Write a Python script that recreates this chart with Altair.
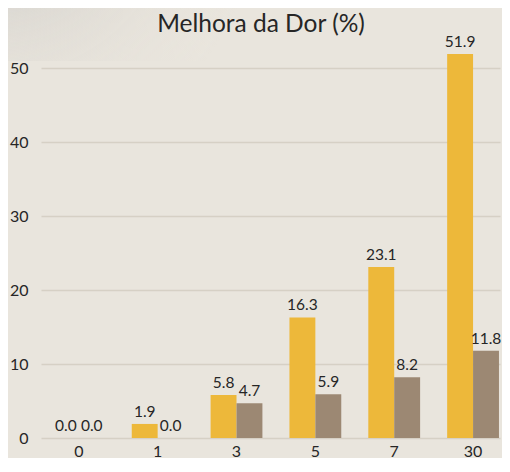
import altair as alt
import pandas as pd

title_text = "Melhora da Dor (%)"
days = ["0", "1", "3", "5", "7", "30"]
series_a = [0.0, 1.9, 5.8, 16.3, 23.1, 51.9]
series_b = [0.0, 0.0, 4.7, 5.9, 8.2, 11.8]
series_names = ["Grupo A", "Grupo B"]
colors = ["#EDB83A", "#9C8873"]

rows = []
for d, a, b in zip(days, series_a, series_b):
    rows.append({"dia": d, "grupo": series_names[0], "valor": a})
    rows.append({"dia": d, "grupo": series_names[1], "valor": b})
df = pd.DataFrame(rows)

FONT = "Lato"
TXT = "#262626"
x = alt.X("dia:N", sort=days, title=None,
          scale=alt.Scale(paddingInner=0.343, paddingOuter=0.082, align=0.92),
          axis=alt.Axis(labelAngle=0, domain=False, ticks=False, labelPadding=5,
                        labelFontSize=16, labelColor=TXT, labelFont=FONT))
y = alt.Y("valor:Q", title=None,
          scale=alt.Scale(domain=[0, 55], nice=False),
          axis=alt.Axis(values=[0, 10, 20, 30, 40, 50], domain=False, ticks=False,
                        labelPadding=13, labelFontSize=16, labelColor=TXT,
                        labelFont=FONT, gridColor="#D6D0C5", gridWidth=1.5))
xo = alt.XOffset("grupo:N", sort=series_names, scale=alt.Scale(paddingInner=0))
col = alt.Color("grupo:N", sort=series_names,
                scale=alt.Scale(domain=series_names, range=colors), legend=None)

shade = alt.Chart(pd.DataFrame({"k": [0]})).mark_rect(
    fill=alt.RadialGradient(
        gradient="radial", x1=0, y1=0, r1=0, x2=0, y2=0, r2=1,
        stops=[alt.GradientStop(color="rgba(175,173,170,0.85)", offset=0),
               alt.GradientStop(color="rgba(205,203,199,0.45)", offset=0.4),
               alt.GradientStop(color="rgba(233,228,219,0)", offset=1)]),
).encode(x=alt.value(-41), x2=alt.value(220), y=alt.value(-31), y2=alt.value(30))

title = alt.Chart(pd.DataFrame({"t": [title_text]})).mark_text(
    fontSize=24.5, font=FONT, color=TXT, baseline="middle", align="center"
).encode(text="t:N", x=alt.value(220), y=alt.value(-6))

base = alt.Chart(df).encode(x=x, xOffset=xo)
bars = base.mark_bar().encode(y=y, color=col)
labels = base.mark_text(baseline="bottom", dy=-4, fontSize=15.5, font=FONT,
                        color=TXT).encode(
    y=alt.Y("valor:Q"), text=alt.Text("valor:Q", format=".1f"))

chart = (shade + title + bars + labels).properties(
    width=459, height=407,
    autosize=alt.AutoSizeParams(type="none"),
    padding={"left": 33, "top": 23, "right": 2, "bottom": 20},
    background="#E9E5DD",
).configure_view(stroke=None)

chart.save("out.html", embed_options={"renderer": "svg", "actions": False})
